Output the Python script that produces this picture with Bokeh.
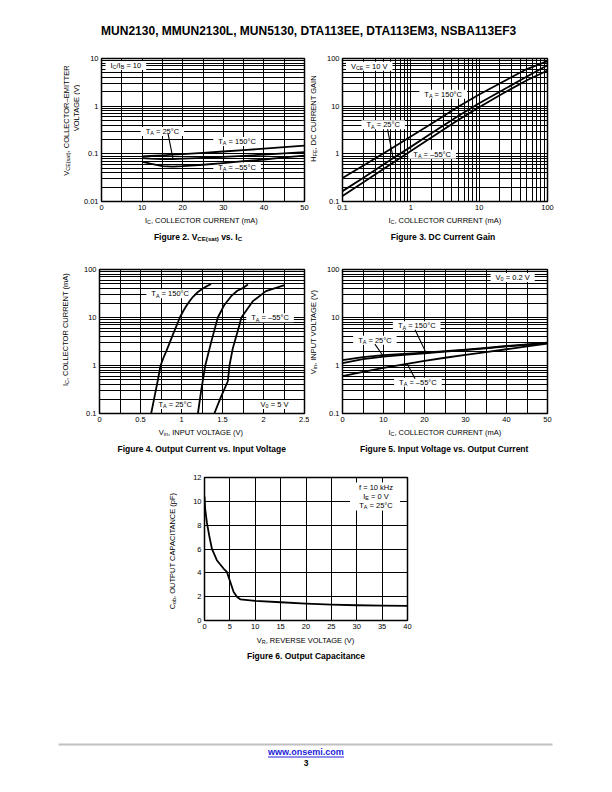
import math
from bokeh.plotting import figure
from bokeh.layouts import column, row
from bokeh.models import Range1d, FixedTicker, Label, CustomJSTickFormatter
from bokeh.embed import file_html
from bokeh.resources import INLINE

# ---------------- data ----------------
# Figure 2: VCE(sat) vs IC
ic_f2 = [10, 12, 15, 17.5, 20, 25, 30, 35, 40, 45, 50]
vce_150 = [0.088, 0.090, 0.093, 0.096, 0.099, 0.105, 0.112, 0.120, 0.128, 0.138, 0.148]
vce_25 = [0.081, 0.079, 0.078, 0.078, 0.079, 0.082, 0.086, 0.091, 0.096, 0.102, 0.108]
vce_m55 = [0.069, 0.062, 0.055, 0.054, 0.055, 0.059, 0.064, 0.070, 0.076, 0.084, 0.092]

# Figure 3: DC current gain
ic_f3 = [0.1, 0.2, 0.5, 1, 2, 5, 10, 20, 50, 100]
hfe_150 = [0.31, 0.56, 1.25, 2.3, 4.3, 9.8, 17.5, 30, 60, 88]
hfe_25 = [0.165, 0.31, 0.74, 1.4, 2.7, 6.3, 11.5, 20, 42, 72]
hfe_m55 = [0.13, 0.25, 0.60, 1.15, 2.2, 5.2, 9.5, 17, 35, 56]

# Figure 4: output current vs input voltage
vin_150 = [0.63, 0.67, 0.71, 0.745, 0.78, 0.82, 0.86, 0.90, 0.94, 0.98, 1.02, 1.06, 1.10, 1.14, 1.20, 1.26, 1.31, 1.36]
ic_150 = [0.1, 0.22, 0.48, 1.0, 1.45, 2.1, 3.1, 4.6, 6.8, 10, 13.5, 17.5, 22, 27, 34, 40, 45, 50]
vin_25 = [1.20, 1.24, 1.29, 1.36, 1.443, 1.52, 1.606, 1.68, 1.748, 1.81]
ic_25 = [0.1, 0.3, 1, 3, 10, 18, 27.8, 36, 41, 48.6]
vin_m55 = [1.40, 1.48, 1.565, 1.585, 1.626, 1.707, 1.73, 1.87, 2.03, 2.256]
ic_m55 = [0.1, 0.22, 0.47, 1.0, 2.3, 7.1, 10, 21.9, 35.4, 47.2]

# Figure 5: input voltage vs output current
ic_f5 = [0, 5, 10, 15, 20, 25, 30, 35, 40, 45, 50]
vin5_150 = [1.30, 1.50, 1.65, 1.75, 1.85, 2.00, 2.15, 2.33, 2.55, 2.75, 3.00]
vin5_25 = [1.12, 1.36, 1.53, 1.66, 1.80, 1.95, 2.10, 2.28, 2.50, 2.70, 2.95]
vin5_m55 = [0.60, 0.74, 0.89, 1.06, 1.25, 1.45, 1.67, 1.90, 2.18, 2.50, 2.85]

# Figure 6: output capacitance
vr_f6 = [0, 0.13, 0.46, 0.92, 1.45, 2.43, 3.75, 4.41, 5.07, 5.72, 6.38, 7.04, 10, 15, 20, 25, 30, 35, 40]
cob_f6 = [10.4, 9.36, 8.25, 7.14, 6.03, 5.06, 4.36, 4.08, 3.25, 2.42, 2.0, 1.78, 1.64, 1.53, 1.42, 1.33, 1.28, 1.25, 1.22]

# tick values
lin50_major = [0, 10, 20, 30, 40, 50]
lin50_minor = [5, 15, 25, 35, 45]
vin_major = [0, 0.5, 1, 1.5, 2, 2.5]
vin_minor = [0.25, 0.75, 1.25, 1.75, 2.25]
vr_major = [0, 5, 10, 15, 20, 25, 30, 35, 40]
cob_major = [0, 2, 4, 6, 8, 10, 12]

# ---------------- helpers ----------------
FONT = "Liberation Sans"
SMALL = 7.5
CAP = 8.5

REG = {' ': 278, '(': 333, ')': 333, ',': 278, '-': 333, '.': 278, '/': 278, '=': 584, '°': 400, '–': 556,
       'A': 667, 'B': 667, 'C': 722, 'D': 722, 'E': 667, 'F': 611, 'G': 778, 'H': 722, 'I': 278, 'K': 667,
       'L': 556, 'M': 833, 'N': 722, 'O': 778, 'P': 667, 'R': 722, 'S': 667, 'T': 611, 'U': 722, 'V': 667,
       'W': 944, 'X': 667, 'Y': 667, 'a': 556, 'b': 556, 'c': 500, 'd': 556, 'e': 556, 'f': 278, 'g': 556,
       'h': 556, 'i': 222, 'k': 500, 'l': 222, 'm': 833, 'n': 556, 'o': 556, 'p': 556, 'r': 333, 's': 500,
       't': 278, 'u': 556, 'v': 500, 'w': 722, 'z': 500}
BOLD = {' ': 278, '(': 333, ')': 333, ',': 278, '-': 333, '.': 278, '/': 278, '=': 584, '°': 400, '–': 556,
        'A': 722, 'B': 722, 'C': 722, 'D': 722, 'E': 667, 'F': 611, 'G': 778, 'H': 722, 'I': 278, 'K': 722,
        'L': 611, 'M': 833, 'N': 722, 'O': 778, 'P': 667, 'R': 722, 'S': 667, 'T': 611, 'U': 722, 'V': 667,
        'a': 556, 'b': 611, 'c': 556, 'd': 611, 'e': 556, 'f': 333, 'g': 611, 'h': 611, 'i': 278, 'k': 556,
        'l': 278, 'm': 889, 'n': 611, 'o': 611, 'p': 611, 'r': 389, 's': 556, 't': 333, 'u': 611, 'v': 556,
        'w': 778, 'z': 500}


def tw(s, size, bold=False):
    t = BOLD if bold else REG
    return sum(t.get(c, 556) for c in s) * size / 1000.0


def rich(p, ax, ay, dx, dy, parts, size=SMALL, bold=False, vertical=False, color="black"):
    """Text made of normal and subscript pieces, centred on (ax, ay) + (dx, dy) px."""
    sub = size * 0.72
    ws = [tw(t, sub if s else size, bold) for t, s in parts]
    pos = -sum(ws) / 2.0
    for (t, s), w in zip(parts, ws):
        fs = sub if s else size
        lead = len(t) - len(t.lstrip(" "))
        shift = tw(" " * lead, fs, bold)
        txt = t.strip(" ")
        drop = 0.24 * size if s else 0.0
        if txt:
            if vertical:
                xo, yo, ang = dx + drop, dy + pos + shift, math.pi / 2
            else:
                xo, yo, ang = dx + pos + shift, dy - drop, 0
            p.add_layout(Label(x=ax, y=ay, x_offset=xo, y_offset=yo, text=txt, angle=ang,
                               text_font=FONT, text_font_size="%.2fpx" % fs,
                               text_font_style="bold" if bold else "normal",
                               text_color=color, text_align="left", text_baseline="alphabetic"))
        pos += w
    return sum(ws)


def boxed(p, x, y, parts, size=SMALL, padx=5, h=9):
    sub = size * 0.72
    w = sum(tw(t, sub if s else size) for t, s in parts) + 2 * padx
    p.rect(x=[x], y=[y], width=w, height=h, width_units="screen", height_units="screen",
           fill_color="white", line_color=None)
    rich(p, x, y, 0, 0, parts, size)


def log_minor(lo, hi):
    return [round(k * 10.0 ** e, 6) for e in range(lo, hi) for k in range(2, 10)]


def strip(w, h, left, top):
    p = figure(width=w, height=h, x_range=Range1d(0, w), y_range=Range1d(0, h),
               output_backend="svg", toolbar_location=None, tools="", title=None, min_border=0,
               x_axis_location=None, y_axis_location=None, outline_line_color=None)
    p.grid.visible = False
    p.background_fill_color = "white"
    p.border_fill_color = "white"
    return (p, left, top + h)


def stext(rec, px, py, parts, **kw):
    p, left, bottom = rec
    return rich(p, 0, 0, px - left, bottom - py, parts, **kw)


def chart(w, h, bl, br, bt, bb, xr, yr, xlog=False, ylog=False):
    p = figure(width=w, height=h, x_range=Range1d(*xr), y_range=Range1d(*yr),
               x_axis_type="log" if xlog else "linear", y_axis_type="log" if ylog else "linear",
               output_backend="svg", toolbar_location=None, tools="", title=None,
               min_border_left=bl, min_border_right=br, min_border_top=bt, min_border_bottom=bb)
    p.outline_line_color = "black"
    p.outline_line_width = 1.5
    p.background_fill_color = "white"
    p.border_fill_color = "white"
    return p


def style(p, xt, xm, yt, ym, xstand=3, ystand=3):
    p.xaxis.ticker = FixedTicker(ticks=xt, minor_ticks=xm)
    p.yaxis.ticker = FixedTicker(ticks=yt, minor_ticks=ym)
    fmt = CustomJSTickFormatter(code="return String(tick);")
    for ax, st in ((p.xaxis, xstand), (p.yaxis, ystand)):
        ax.formatter = fmt
        ax.axis_line_color = None
        ax.major_tick_line_color = None
        ax.minor_tick_line_color = None
        ax.major_tick_out = 0
        ax.major_tick_in = 0
        ax.minor_tick_out = 0
        ax.minor_tick_in = 0
        ax.major_label_standoff = st
        ax.major_label_text_font = FONT
        ax.major_label_text_font_size = "%spx" % SMALL
        ax.major_label_text_color = "black"
    for g in (p.xgrid, p.ygrid):
        g.grid_line_color = "black"
        g.grid_line_width = 1.0
        g.minor_grid_line_color = "black"
        g.minor_grid_line_width = 1.0


def curve(p, x, y):
    p.line(x, y, line_color="black", line_width=1.8, line_join="round")


def leader(p, x, y):
    p.line(x, y, line_color="black", line_width=1.1)


TA150 = [("T", 0), ("A", 1), (" = 150°C", 0)]
TA25 = [("T", 0), ("A", 1), (" = 25°C", 0)]
TAM55 = [("T", 0), ("A", 1), (" = –55°C", 0)]
IC_TITLE = [("I", 0), ("C", 1), (", COLLECTOR CURRENT (mA)", 0)]
VIN_TITLE = [("V", 0), ("in", 1), (", INPUT VOLTAGE (V)", 0)]

# ---------------- header ----------------
hdr = strip(560, 52, 0, 0)
stext(hdr, 310, 30.5, [("MUN2130, MMUN2130L, MUN5130, DTA113EE, DTA113EM3, NSBA113EF3", 0)],
      size=12, bold=True)

# ---------------- row 1: figures 2 and 3 ----------------
L2 = strip(80, 162, 0, 52)
stext(L2, 66, 120, [("V", 0), ("CE(sat)", 1), (", COLLECTOR–EMITTER", 0)], vertical=True)
stext(L2, 75.5, 107, [("VOLTAGE (V)", 0)], vertical=True)

f2 = chart(229, 162, 18, 5, 6, 13, (0, 50), (0.01, 10), ylog=True)
style(f2, lin50_major, lin50_minor, [0.01, 0.1, 1, 10], log_minor(-2, 1))
boxed(f2, 6.0, 7.1, [("I", 0), ("C", 1), ("/I", 0), ("B", 1), (" = 10", 0)])
boxed(f2, 15.0, 0.293, TA25)
boxed(f2, 33.4, 0.181, TA150)
boxed(f2, 33.4, 0.0528, TAM55)
curve(f2, ic_f2, vce_150)
curve(f2, ic_f2, vce_25)
curve(f2, ic_f2, vce_m55)
leader(f2, [16.4, 17.6], [0.262, 0.079])

L3 = strip(13, 162, 309, 52)
stext(L3, 313, 118, [("H", 0), ("FE", 1), (", DC CURRENT GAIN", 0)], vertical=True)

f3 = chart(232, 162, 20, 7, 6, 13, (0.1, 100), (0.1, 100), xlog=True, ylog=True)
style(f3, [0.1, 1, 10, 100], log_minor(-1, 2), [0.1, 1, 10, 100], log_minor(-1, 2))
boxed(f3, 0.246, 68.5, [("V", 0), ("CE", 1), (" = 10 V", 0)])
boxed(f3, 2.97, 17.7, TA150)
boxed(f3, 0.394, 4.08, TA25)
boxed(f3, 2.05, 0.98, TAM55)
curve(f3, ic_f3, hfe_150)
curve(f3, ic_f3, hfe_25)
curve(f3, ic_f3, hfe_m55)
leader(f3, [0.456, 0.551], [3.3, 0.8])

C1 = strip(560, 36, 0, 214)
stext(C1, 201, 220, IC_TITLE)
stext(C1, 197.5, 236, [("Figure 2. V", 0), ("CE(sat)", 1), (" vs. I", 0), ("C", 1)], size=CAP, bold=True)
stext(C1, 444.5, 220, IC_TITLE)
stext(C1, 442.5, 236, [("Figure 3. DC Current Gain", 0)], size=CAP, bold=True)

# ---------------- row 2: figures 4 and 5 ----------------
L4 = strip(80, 176, 0, 250)
stext(L4, 65, 329, IC_TITLE, vertical=True)

f4 = chart(229, 176, 18, 5, 19, 13, (0, 2.5), (0.1, 100), ylog=True)
style(f4, vin_major, vin_minor, [0.1, 1, 10, 100], log_minor(-1, 2))
boxed(f4, 0.862, 31.1, TA150)
boxed(f4, 2.08, 9.84, TAM55)
boxed(f4, 0.923, 0.154, TA25)
boxed(f4, 2.134, 0.154, [("V", 0), ("0", 1), (" = 5 V", 0)])
curve(f4, vin_150, ic_150)
curve(f4, vin_25, ic_25)
curve(f4, vin_m55, ic_m55)

L5 = strip(13, 176, 309, 250)
stext(L5, 313, 331, VIN_TITLE, vertical=True)

f5 = chart(232, 176, 20, 7, 19, 13, (0, 50), (0.1, 100), ylog=True)
style(f5, lin50_major, lin50_minor, [0.1, 1, 10, 100], log_minor(-1, 2))
boxed(f5, 41.5, 68, [("V", 0), ("0", 1), (" = 0.2 V", 0)])
boxed(f5, 18.1, 6.7, TA150)
boxed(f5, 7.9, 3.37, TA25)
boxed(f5, 18.4, 0.45, TAM55)
curve(f5, ic_f5, vin5_150)
curve(f5, ic_f5, vin5_25)
curve(f5, ic_f5, vin5_m55)
leader(f5, [17.7, 20.3], [5.54, 1.9])
leader(f5, [7.9, 10.0], [2.78, 1.54])
leader(f5, [17.7, 15.7], [0.527, 1.12])

C2 = strip(560, 36, 0, 426)
stext(C2, 201, 432, VIN_TITLE)
stext(C2, 201.5, 448, [("Figure 4. Output Current vs. Input Voltage", 0)], size=CAP, bold=True)
stext(C2, 444.5, 432, IC_TITLE)
stext(C2, 444, 448, [("Figure 5. Input Voltage vs. Output Current", 0)], size=CAP, bold=True)

# ---------------- row 3: figure 6 ----------------
L6 = strip(184, 170, 0, 462)
stext(L6, 171.5, 550, [("C", 0), ("ob", 1), (", OUTPUT CAPACITANCE (pF)", 0)], vertical=True)

f6 = chart(228, 170, 20, 5, 15, 12, (0, 40), (0, 12))
style(f6, vr_major, [], cob_major, [])
f6.rect(x=[33.6], y=[10.4], width=50, height=28, width_units="screen", height_units="screen",
        fill_color="white", line_color=None)
curve(f6, vr_f6, cob_f6)
rich(f6, 33.8, 11.17, 0, 0, [("f = 10 kHz", 0)])
rich(f6, 33.8, 10.4, 0, 0, [("I", 0), ("E", 1), (" = 0 V", 0)])
rich(f6, 33.8, 9.64, 0, 0, TA25)

# ---------------- footer ----------------
FT = strip(560, 150, 0, 632)
stext(FT, 305.5, 640, [("V", 0), ("R", 1), (", REVERSE VOLTAGE (V)", 0)])
stext(FT, 305.5, 655, [("Figure 6. Output Capacitance", 0)], size=CAP, bold=True)
ftr = FT[0]
ftr.line([58, 552], [782 - 744, 782 - 744], line_color="#c0c0c0", line_width=2)
lw = stext(FT, 305.5, 751.5, [("www.onsemi.com", 0)], size=9, bold=True, color="#2424d8")
ftr.line([305.5 - lw / 2, 305.5 + lw / 2], [782 - 756.5, 782 - 756.5], line_color="#2424d8", line_width=1)
stext(FT, 305.5, 762, [("3", 0)], size=8.5, bold=True)


def wrap(x):
    return column(x)


layout = column(
    wrap(hdr[0]),
    row(wrap(L2[0]), wrap(f2), wrap(L3[0]), wrap(f3)),
    wrap(C1[0]),
    row(wrap(L4[0]), wrap(f4), wrap(L5[0]), wrap(f5)),
    wrap(C2[0]),
    row(wrap(L6[0]), wrap(f6)),
    wrap(ftr),
)
open("out.html", "w").write(file_html(layout, INLINE))
